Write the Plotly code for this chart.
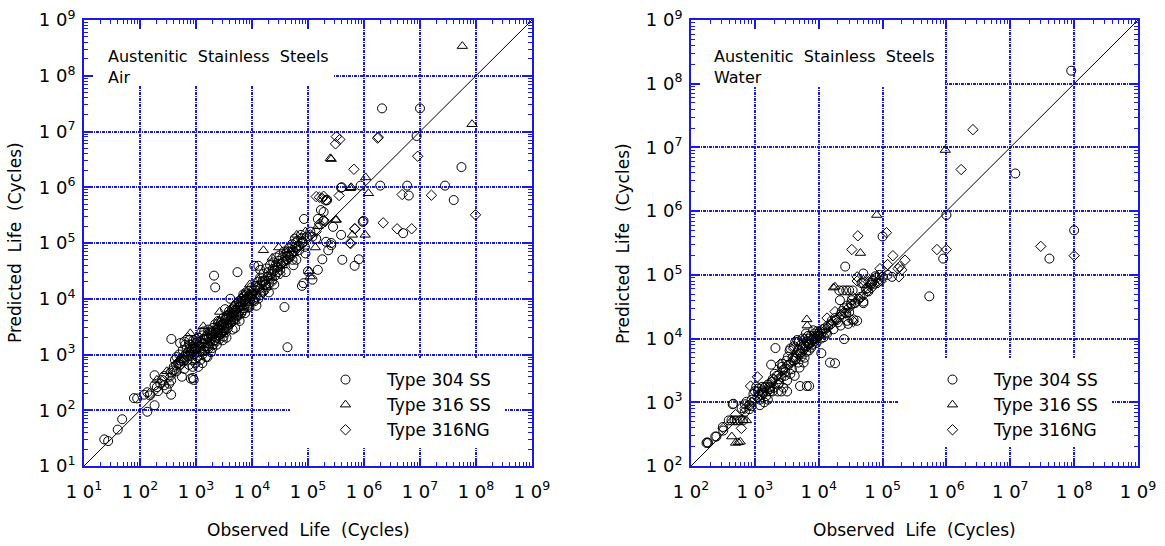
import plotly.graph_objects as go

FONT = "DejaVu Sans, Liberation Sans, Arial, sans-serif"
BLUE = "#1a1ae6"
W, H = 1165, 546

# ---------------- data: (observed life, predicted life) ----------------
air_304 = [
    (23, 30), (27, 28), (40, 45), (48, 69), (78, 165), (89, 163), (135, 94), (182, 123),
    (118, 190), (135, 210), (150, 185), (182, 280), (182, 425), (200, 260), (230, 300), (270, 280),
    (270, 410), (330, 300), (360, 340), (360, 190), (350, 470), (300, 240), (250, 350), (210, 220),
    (363, 1900), (520, 1600), (810, 370), (910, 350), (880, 380),
    (400, 600), (420, 800), (450, 500), (480, 700), (500, 1000), (520, 650), (550, 850), (580, 1200),
    (600, 750), (620, 550), (650, 1000), (680, 1300), (700, 800), (720, 1100), (750, 650), (780, 1500),
    (800, 1000), (830, 1200), (850, 800), (880, 1400), (900, 1800), (920, 1000), (950, 1300), (980, 700),
    (450, 900), (560, 400), (640, 1500), (760, 1800), (870, 600), (990, 1600),
    (700, 950), (760, 1200), (840, 1050), (930, 1250), (610, 900), (530, 780), (440, 650), (380, 520),
    (620, 1700),
    (1000, 1300), (1050, 900), (1100, 1500), (1100, 2000), (1150, 1100), (1200, 800), (1200, 1700),
    (1250, 1300), (1300, 2200), (1300, 1000), (1350, 1600), (1400, 1200), (1400, 2600), (1450, 1900),
    (1500, 1400), (1500, 900), (1550, 2100), (1600, 1600), (1650, 2800), (1700, 1300), (1700, 2000),
    (1750, 2400), (1800, 1700), (1850, 1100), (1900, 2600), (1950, 2000), (2000, 1500), (2000, 3000),
    (2100, 2300), (2150, 1800), (2200, 3500), (2250, 2700), (2300, 2000), (2350, 1500), (2400, 3100),
    (2450, 2500), (2500, 4000), (2550, 2200), (2600, 3300), (2650, 1900), (2700, 2800), (2800, 3800),
    (2850, 2400), (2900, 3200), (3000, 2700), (3050, 4500), (3100, 2100), (3150, 3600), (2100, 26000),
    (2200, 16000), (1100, 600), (1300, 700), (1600, 900), (1000, 1900), (1250, 2500), (3000, 1800),
    (1050, 1700), (1150, 1350), (1350, 1900), (1450, 1150), (1650, 1400), (1850, 2200), (1950, 1300),
    (2050, 2600), (2250, 1700), (2450, 2900), (2750, 2300), (2950, 3500),
    (3200, 3000), (3300, 4200), (3400, 2500), (3500, 3600), (3600, 5000), (3700, 3000), (3800, 4400),
    (3900, 6000), (4000, 3500), (4100, 10000), (4200, 4800), (4300, 3800), (4400, 6500), (4500, 5200),
    (4600, 4000), (4700, 7000), (4800, 5600), (4900, 4300), (5000, 6300), (5200, 8000), (5400, 5000),
    (5500, 30000), (5600, 7000), (5800, 9000), (6000, 6000), (6200, 8500), (6400, 5500), (6600, 10000),
    (6800, 7500), (7000, 12000), (7200, 6800), (7400, 9500), (7600, 8000), (7800, 13000), (8000, 10000),
    (8300, 7500), (8600, 11000), (8900, 14000), (9200, 9000), (9500, 12000), (9800, 16000), (3500, 2000),
    (4500, 2800), (6000, 4000), (7500, 5500), (9000, 7000), (3300, 6500), (5000, 3000),
    (3250, 2700), (3450, 4600), (3650, 3300), (3850, 5200), (4050, 4100), (4350, 5700), (4650, 4700),
    (4950, 7400), (5300, 6000), (5700, 5200), (6100, 7200), (6500, 9000), (6900, 6200), (7300, 11000),
    (7700, 9000), (8100, 12000), (8800, 8200), (9400, 10500),
    (10000, 11000), (11000, 39000), (10500, 14000), (11000, 9000), (11500, 17000), (12000, 12000),
    (12500, 20000), (13000, 39000), (13000, 10000), (13500, 15000), (14000, 33000), (14000, 24000),
    (14500, 13000), (15000, 18000), (16000, 28000), (16000, 14000), (17000, 21000), (18000, 35000),
    (18000, 16000), (19000, 25000), (20000, 19000), (21000, 40000), (22000, 28000), (23000, 22000),
    (24000, 45000), (25000, 32000), (26000, 26000), (27000, 55000), (28000, 38000), (29000, 30000),
    (30000, 48000), (31000, 60000), (12000, 7500), (20000, 13000), (25000, 18000), (38000, 7100),
    (10500, 9500), (11500, 12500), (12800, 16000), (14000, 11500), (15500, 21000), (17500, 18000),
    (19500, 30000), (21500, 23000), (23500, 34000), (26500, 40000), (29500, 37000),
    (33000, 42000), (35000, 55000), (37000, 70000), (40000, 48000), (42000, 65000), (43000, 1350),
    (45000, 80000), (47000, 56000), (50000, 60000), (52000, 95000), (55000, 70000), (58000, 120000),
    (60000, 85000), (62000, 50000), (65000, 110000), (70000, 75000), (75000, 140000), (80000, 100000),
    (90000, 65000), (95000, 130000), (40000, 30000), (55000, 40000), (78000, 17000), (83000, 19000),
    (32000, 33000), (36000, 46000), (41000, 58000), (46000, 70000), (53000, 50000), (60000, 100000),
    (68000, 90000), (76000, 120000), (88000, 85000),
    (100000, 31000), (150000, 33000), (120000, 22000), (180000, 51000), (260000, 91000), (230000, 74000),
    (210000, 105000), (170000, 390000), (190000, 360000), (150000, 270000), (190000, 250000),
    (210000, 580000), (400000, 1000000), (950000, 240000), (410000, 50000), (680000, 39000),
    (810000, 51000), (85000, 270000), (120000, 130000), (110000, 160000), (140000, 120000),
    (2.1e6, 2.6e7), (1.0e7, 2.6e7), (8.7e6, 8.3e6), (5.5e7, 2.3e6), (3.9e5, 9.8e5), (8.7e5, 1.07e6),
    (1.95e6, 1.07e6), (5.9e6, 1.07e6), (2.8e7, 1.07e6), (6.3e6, 7.1e5), (4.0e7, 5.9e5), (2.2e5, 5.9e5),
    (9.8e5, 2.5e5), (5.0e6, 1.5e5), (3.9e5, 1.4e5), (2.8e5, 1.95e5), (2.6e5, 1.0e5),
]

air_316 = [
    (5.7e7, 3.4e8), (8.5e7, 1.35e7), (2.5e5, 3.3e6), (2.6e5, 3.2e6), (1.07e6, 1.5e6), (1.2e6, 7.8e5),
    (5.9e5, 1.0e6), (6.2e5, 1.4e5), (1.05e6, 1.4e5), (5.7e5, 9.6e5), (3.1e5, 2.6e5), (3.2e5, 2.6e5),
    (1.6e4, 7.4e4), (3.0e4, 8.3e4), (4.1e4, 7.4e4), (2.3e4, 5.4e4), (5.1e4, 7.7e4), (6.3e4, 1.4e5),
    (1.35e5, 8.3e4), (1.1e5, 2.5e4), (1.05e5, 3.1e4), (9.1e3, 1.8e4), (8e4, 1.1e5), (2e4, 2.4e4),
    (1.0e4, 1.3e4), (6e3, 8e3), (4e3, 6e3), (2.5e3, 4e3), (1.6e3, 2.5e3), (1.2e3, 1.5e3), (800, 1200),
    (500, 800), (300, 500), (200, 350), (790, 2400), (1350, 3200), (2650, 5800), (7e3, 1.2e4),
    (1.3e4, 2.2e4), (3.5e4, 4.0e4), (5.5e4, 6.5e4), (9e4, 1.6e5), (1.5e5, 2.0e5), (3e3, 2.5e3),
    (5e3, 4e3), (1.8e4, 1.6e4),
]

air_316ng = [
    (3.2e5, 8.1e6), (3.7e5, 7.2e6), (3.1e5, 6.0e6), (1.8e6, 7.9e6), (1.75e6, 7.6e6), (9.1e6, 3.6e6),
    (6.6e5, 2.1e6), (9.8e7, 3.2e5), (1.6e7, 7.2e5), (4.8e6, 7.4e5), (2.2e6, 2.3e5), (3.9e6, 1.8e5),
    (7.1e6, 1.8e5), (6.8e5, 1.8e5), (3.6e5, 7.1e5), (1.4e5, 6.8e5), (1.6e5, 6.6e5), (1.9e5, 6.9e5),
    (2.1e5, 5.9e5), (1.8e5, 6.3e5), (5.6e5, 1.0e5), (5.8e5, 9.8e4), (6.9e5, 1.8e5), (1.6e5, 2.2e5),
    (1.9e5, 2.6e5),
    (150, 200), (250, 330), (400, 500), (600, 800), (710, 2000), (900, 1100), (1300, 1600), (1800, 2400),
    (2500, 3000), (3500, 4500), (5000, 6000), (7000, 9000), (9000, 12000), (1.2e4, 1.6e4), (1.5e4, 2.0e4),
    (2.0e4, 2.6e4), (2.6e4, 3.5e4), (3.5e4, 4.5e4), (4.5e4, 6.0e4), (6e4, 8e4), (8e4, 1.1e5),
    (1.1e5, 1.4e5), (1.4e5, 1.6e5), (2e5, 2.4e5), (1100, 900), (1600, 1300), (2200, 1800), (3000, 2500),
    (4200, 3600), (6000, 5000), (8500, 7000), (1.1e4, 9500), (1.6e4, 1.3e4), (2.3e4, 2.0e4),
    (3.2e4, 2.8e4), (4.2e4, 5.0e4), (7e4, 9e4), (500, 700), (350, 400),
]

water_304 = [
    (180, 235), (185, 230), (175, 230), (240, 290), (250, 290), (320, 360), (315, 410), (450, 930),
    (460, 950), (390, 520), (430, 520), (480, 520), (520, 520), (580, 520), (650, 520), (620, 810),
    (740, 1020), (890, 1100), (700, 930), (820, 780), (700, 710), (890, 870), (820, 900), (950, 1350),
    (1120, 1480), (1290, 1480), (1550, 1480), (1740, 1480), (1900, 1480), (2300, 1480), (2600, 1480),
    (3200, 1480), (1050, 1750), (1300, 1750), (1450, 1750), (1750, 1750), (5100, 1800), (6500, 1800),
    (7100, 1800),
    (1100, 1200), (1200, 1100), (1300, 1300), (1400, 1000), (1500, 1250), (1600, 1900), (1700, 1600),
    (1800, 3900), (2100, 7100), (1900, 2300), (2000, 1700), (2200, 2600), (2400, 2000), (2600, 2500),
    (2800, 3200), (3000, 3000), (2300, 1900), (2800, 1700), (1600, 1100), (1200, 900),
    (1000, 1500), (1150, 1650), (1350, 1400), (1650, 1700), (1850, 2100), (2050, 2800), (2350, 2300),
    (2650, 3600), (2950, 2600), (2700, 4000), (3100, 4500),
    (3300, 5200), (3600, 2800), (4000, 4500), (4500, 6000), (5000, 3500), (5500, 7000), (6000, 5000),
    (6500, 9000), (7000, 6500), (7500, 11000), (8000, 8000), (8500, 12000), (9000, 10000), (9500, 13000),
    (3200, 2200), (3800, 3300), (4200, 2600), (4800, 4200), (5200, 5800), (5800, 4200), (6200, 7500),
    (6800, 11000), (7200, 8500), (7800, 9500), (8200, 13500), (8800, 11000), (9200, 8500), (9800, 12000),
    (3500, 6500), (4600, 9500), (5600, 10000), (4300, 8900),
    (3400, 3900), (3900, 5000), (4400, 4800), (4900, 6600), (5400, 5200), (5900, 7800), (6400, 6200),
    (6900, 8200), (7600, 7200), (8300, 10000), (8700, 9200), (9600, 11000), (3600, 7000), (4100, 7600),
    (4900, 9000), (5300, 8000), (6300, 12000), (7000, 10000),
    (10000, 11000), (10500, 13000), (11000, 12000), (11000, 5900), (11500, 14000), (12000, 10500),
    (13000, 12500), (15000, 4200), (18000, 4100), (25000, 9800), (14000, 16000), (16000, 19000),
    (18000, 21000), (20000, 18000), (22000, 24000), (25000, 30000), (28000, 33000), (30000, 26000),
    (17000, 14000), (21000, 57000), (24000, 57000), (27000, 57000), (30000, 57000), (26000, 135000),
    (28000, 19000), (22000, 16000), (21500, 40000), (29000, 17000),
    (10800, 10000), (12500, 14500), (13500, 12000), (15500, 17000), (19000, 19500), (23000, 27000),
    (27000, 25000),
    (35000, 20000), (40000, 19000), (37000, 36000), (50000, 36000), (50000, 74000), (45000, 45000),
    (55000, 60000), (60000, 55000), (70000, 80000), (80000, 90000), (90000, 100000), (65000, 70000),
    (33000, 40000), (50000, 38000), (50000, 105000), (47000, 74000), (77000, 95000), (34000, 57000),
    (32000, 35000), (42000, 42000), (58000, 62000), (68000, 75000),
    (100000, 400000), (1.0e6, 8.7e5), (1.2e7, 3.9e6), (1.0e8, 5.0e5), (4.1e7, 1.8e5), (8.9e5, 1.8e5),
    (5.4e5, 4.6e4), (9.0e7, 1.6e8), (140000, 93000), (100000, 93000), (120000, 100000),
]

water_316 = [
    (8.1e4, 8.7e5), (9.6e5, 9.1e6), (4.5e4, 2.2e5), (1.8e4, 6.5e4), (1.7e4, 6.3e4), (6500, 20000),
    (6600, 16000), (435, 290), (500, 230), (550, 235), (590, 240), (435, 520), (660, 520), (740, 520),
]

water_316ng = [
    (2.6e6, 1.9e7), (1.7e6, 4.5e6), (4.1e4, 4.1e5), (1.15e5, 4.6e5), (3.0e7, 2.8e5), (1.0e8, 2.0e5),
    (7.1e5, 2.5e5), (1.0e6, 2.5e5), (3.3e4, 2.5e5), (1.45e5, 2.0e5), (2.25e5, 1.7e5), (1.85e5, 1.35e5),
    (1.75e5, 1.25e5), (2.0e5, 1.2e5), (9.1e4, 1.25e5), (1.2e5, 1.45e5), (1.8e5, 9.3e4), (4.0e4, 9.3e4),
    (3.4e4, 4.5e4), (3.3e4, 1.95e4), (1.8e4, 2.65e4),
    (320, 390), (615, 390), (855, 1800), (1100, 2500), (500, 640), (700, 800), (900, 1000), (1200, 1300),
    (1400, 1700), (1700, 2000), (2000, 2300), (2400, 2800), (2800, 3300), (3200, 3800), (3700, 4200),
    (4200, 5000), (4800, 5500), (5500, 6200), (6200, 7000), (7000, 7800), (8000, 9000), (9000, 10000),
    (10000, 11500), (12000, 13000), (14000, 15000), (16000, 17000), (19000, 20000), (22000, 23000),
    (25000, 26000), (29000, 30000), (33000, 33000), (38000, 37000), (44000, 42000), (50000, 48000),
    (58000, 55000), (67000, 62000), (75000, 72000), (85000, 80000), (35000, 18500), (26000, 25000),
    (13500, 21000), (40000, 80000), (50000, 82000), (60000, 78000), (70000, 85000), (85000, 75000),
    (95000, 80000), (2500, 4000), (4000, 7000), (6000, 10000),
]

series_names = ["Type 304 SS", "Type 316 SS", "Type 316NG"]
air_line = [10, 1e9]        # 1:1 reference line ends
water_line = [100, 1e9]
air_ticks = [10 ** k for k in range(1, 10)]
water_ticks = [10 ** k for k in range(2, 10)]
air_ticktext = [f"1 0<sup>{k}</sup>" for k in range(1, 10)]
water_ticktext = [f"1 0<sup>{k}</sup>" for k in range(2, 10)]

symbols = ["circle-open", "triangle-up-open", "diamond-open"]
sizes = [9, 9, 8]

fig = go.Figure()

fig.add_trace(go.Scatter(x=air_line, y=air_line, mode="lines", line=dict(color="black", width=1),
                         xaxis="x", yaxis="y", showlegend=False, hoverinfo="skip"))
fig.add_trace(go.Scatter(x=water_line, y=water_line, mode="lines", line=dict(color="black", width=1),
                         xaxis="x2", yaxis="y2", showlegend=False, hoverinfo="skip"))

for i, (name, data) in enumerate(zip(series_names, [air_304, air_316, air_316ng])):
    fig.add_trace(go.Scatter(
        x=[p[0] for p in data], y=[p[1] for p in data], mode="markers", name=name,
        marker=dict(symbol=symbols[i], size=sizes[i], color="black", line=dict(color="black", width=1)),
        xaxis="x", yaxis="y", legend="legend", legendgroup=f"a{i}"))
for i, (name, data) in enumerate(zip(series_names, [water_304, water_316, water_316ng])):
    fig.add_trace(go.Scatter(
        x=[p[0] for p in data], y=[p[1] for p in data], mode="markers", name=name,
        marker=dict(symbol=symbols[i], size=sizes[i], color="black", line=dict(color="black", width=1)),
        xaxis="x2", yaxis="y2", legend="legend2", legendgroup=f"w{i}"))


def px(xp):
    return xp / W


def py(yp):
    return 1 - yp / H


def axis(rng, domain, anchor, tickvals, ticktext, is_x):
    return dict(
        type="log", range=rng, domain=domain, anchor=anchor, automargin=False,
        showline=True, linecolor=BLUE, linewidth=2, mirror="allticks",
        ticks="inside", ticklen=8, tickwidth=1.5, tickcolor=BLUE,
        showgrid=True, gridcolor=BLUE, gridwidth=1.5, griddash="3px,1px,1px,1px",
        tickmode="array", tickvals=tickvals, ticktext=ticktext,
        tickfont=dict(family=FONT, size=18, color="black"),
        ticklabelstandoff=8 if is_x else 3,
        minor=dict(dtick="D1", ticks="inside", ticklen=4, tickwidth=1, tickcolor=BLUE, showgrid=False),
        zeroline=False,
    )


PL = (84, 532)
PR = (691, 1138)
PT, PB = 20, 466
xL = [px(PL[0]), px(PL[1])]
xR = [px(PR[0]), px(PR[1])]
yD = [py(PB), py(PT)]

fig.update_layout(
    width=W, height=H, autosize=False,
    margin=dict(l=0, r=0, t=0, b=0),
    paper_bgcolor="white", plot_bgcolor="white",
    font=dict(family=FONT, color="black"),
    xaxis=axis([1, 9], xL, "y", air_ticks, air_ticktext, True),
    yaxis=axis([1, 9], yD, "x", air_ticks, air_ticktext, False),
    xaxis2=axis([2, 9], xR, "y2", water_ticks, water_ticktext, True),
    yaxis2=axis([2, 9], yD, "x2", water_ticks, water_ticktext, False),
    legend=dict(x=px(304), y=py(362), xanchor="left", yanchor="top", bgcolor="rgba(0,0,0,0)",
                font=dict(family=FONT, size=17, color="black"), itemwidth=73, tracegroupgap=4,
                traceorder="normal"),
    legend2=dict(x=px(911), y=py(362), xanchor="left", yanchor="top", bgcolor="rgba(0,0,0,0)",
                 font=dict(family=FONT, size=17, color="black"), itemwidth=73, tracegroupgap=4,
                 traceorder="normal"),
)

# white panels that interrupt the grid behind the caption and the key
# (kept clear of the frame ticks; no data marks fall inside them)
for (x0, y0, x1, y1) in [(94, 29, 333, 85), (290, 358, 505, 448), (701, 29, 945, 87), (898, 358, 1112, 447)]:
    fig.add_shape(type="rect", xref="paper", yref="paper", x0=px(x0), x1=px(x1), y0=py(y1), y1=py(y0),
                  fillcolor="white", line=dict(width=0), layer="above")

cap_font = dict(family=FONT, size=16, color="black")
fig.add_annotation(xref="paper", yref="paper", x=px(106), y=py(45), xanchor="left", yanchor="top",
                   align="left", showarrow=False,
                   text="Austenitic  Stainless  Steels<br>Air", font=cap_font)
fig.add_annotation(xref="paper", yref="paper", x=px(712), y=py(45), xanchor="left", yanchor="top",
                   align="left", showarrow=False,
                   text="Austenitic  Stainless  Steels<br>Water", font=cap_font)

title_font = dict(family=FONT, size=17, color="black")
for xa, ya, ytx in [("x", "y", 15), ("x2", "y2", 623)]:
    fig.add_annotation(xref=f"{xa} domain", yref="paper", x=0.5, y=py(530), xanchor="center",
                       yanchor="middle", showarrow=False, text="Observed  Life  (Cycles)", font=title_font)
    fig.add_annotation(xref="paper", yref=f"{ya} domain", x=px(ytx), y=0.5, xanchor="center",
                       yanchor="middle", showarrow=False, textangle=-90,
                       text="Predicted  Life  (Cycles)", font=title_font)

fig.write_html("out.html")
